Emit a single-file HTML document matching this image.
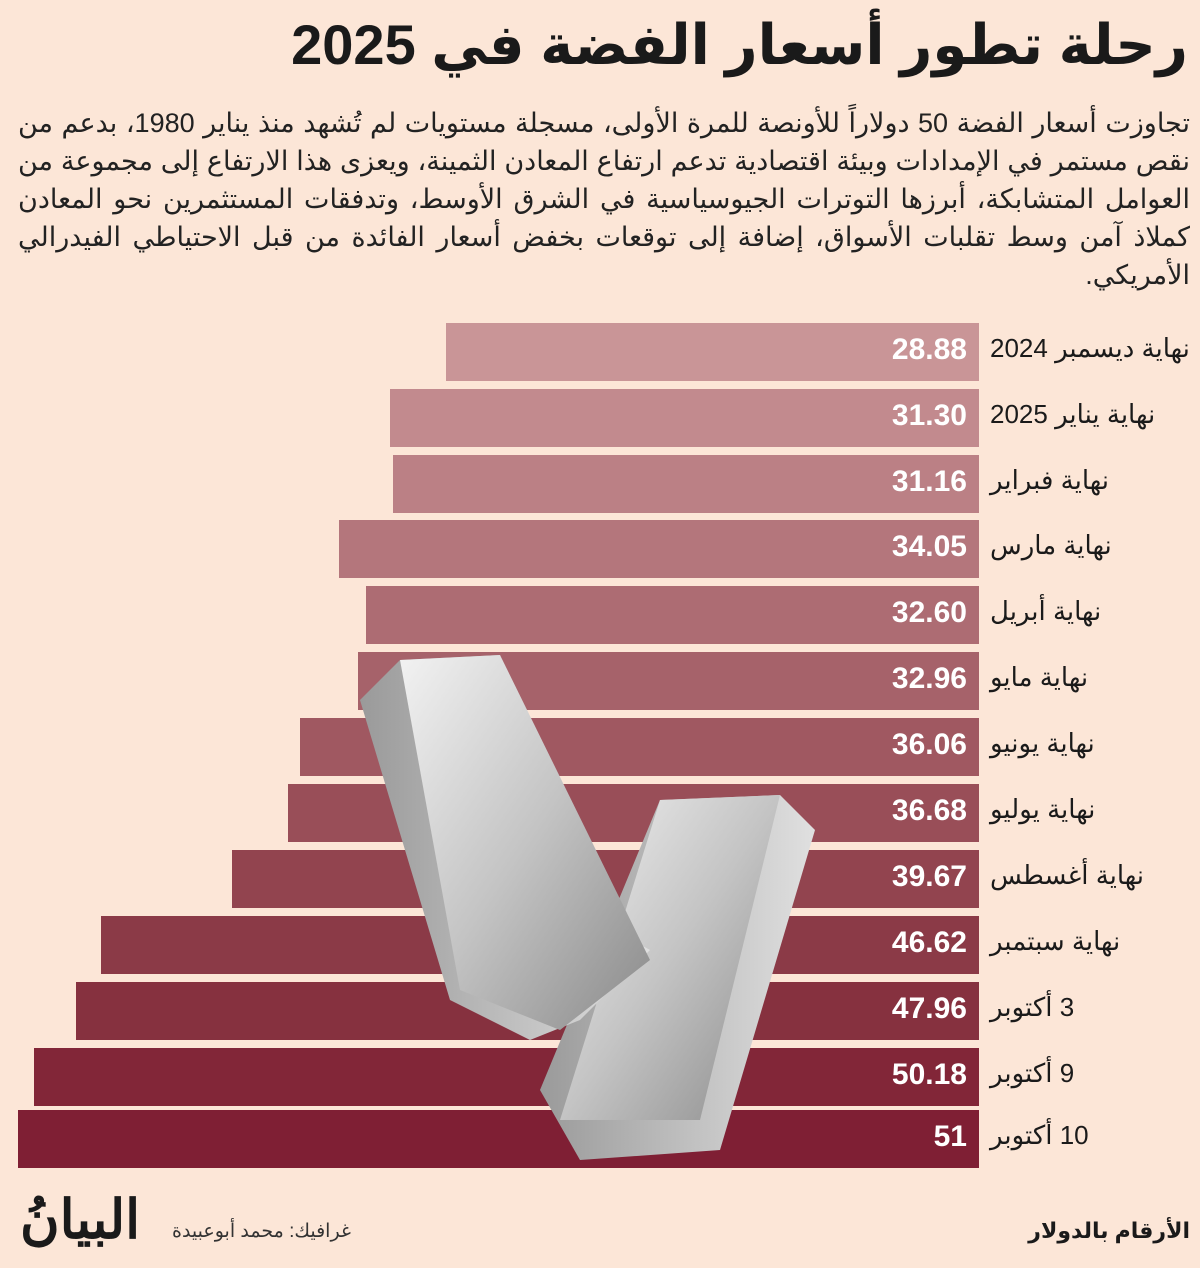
<!DOCTYPE html>
<html><head><meta charset="utf-8"><style>
body{margin:0;width:1200px;height:1268px;background:#fce6d7;position:relative;overflow:hidden;font-family:"Liberation Sans","Noto Sans CJK SC","DejaVu Sans",sans-serif;color:#1a1a1a}
.t{position:absolute;right:12px;top:12px;font-size:56px;font-weight:bold;direction:rtl;white-space:nowrap}
.p{position:absolute;left:18px;right:10px;top:104px;font-size:27px;line-height:38px;direction:rtl;text-align:justify;text-align-last:right;color:#222}
.b{position:absolute;height:58px;right:221px}
.v{position:absolute;right:233px;color:#fff;font-weight:bold;font-size:30px;line-height:58px}
.l{position:absolute;left:990px;font-size:26px;line-height:58px;direction:rtl;white-space:nowrap;text-align:left}
.f{position:absolute;font-size:20px;direction:rtl;white-space:nowrap}
</style></head><body>
<div class="t">رحلة تطور أسعار الفضة في 2025</div>
<div class="p">تجاوزت أسعار الفضة 50 دولاراً للأونصة للمرة الأولى، مسجلة مستويات لم تُشهد منذ يناير 1980، بدعم من نقص مستمر في الإمدادات وبيئة اقتصادية تدعم ارتفاع المعادن الثمينة، ويعزى هذا الارتفاع إلى مجموعة من العوامل المتشابكة، أبرزها التوترات الجيوسياسية في الشرق الأوسط، وتدفقات المستثمرين نحو المعادن كملاذ آمن وسط تقلبات الأسواق، إضافة إلى توقعات بخفض أسعار الفائدة من قبل الاحتياطي الفيدرالي الأمريكي.</div>

<div class="b" style="top:323px;left:446px;background:#c99597"></div><div class="v" style="top:321px">28.88</div><div class="l" style="top:319px">نهاية ديسمبر 2024</div>
<div class="b" style="top:389px;left:390px;background:#c28a8e"></div><div class="v" style="top:387px">31.30</div><div class="l" style="top:385px">نهاية يناير 2025</div>
<div class="b" style="top:455px;left:393px;background:#bb8085"></div><div class="v" style="top:453px">31.16</div><div class="l" style="top:451px">نهاية فبراير</div>
<div class="b" style="top:520px;left:339px;background:#b4767c"></div><div class="v" style="top:518px">34.05</div><div class="l" style="top:516px">نهاية مارس</div>
<div class="b" style="top:586px;left:366px;background:#ad6c73"></div><div class="v" style="top:584px">32.60</div><div class="l" style="top:582px">نهاية أبريل</div>
<div class="b" style="top:652px;left:358px;background:#a6626a"></div><div class="v" style="top:650px">32.96</div><div class="l" style="top:648px">نهاية مايو</div>
<div class="b" style="top:718px;left:300px;background:#a05861"></div><div class="v" style="top:716px">36.06</div><div class="l" style="top:714px">نهاية يونيو</div>
<div class="b" style="top:784px;left:288px;background:#994e58"></div><div class="v" style="top:782px">36.68</div><div class="l" style="top:780px">نهاية يوليو</div>
<div class="b" style="top:850px;left:232px;background:#92444f"></div><div class="v" style="top:848px">39.67</div><div class="l" style="top:846px">نهاية أغسطس</div>
<div class="b" style="top:916px;left:101px;background:#8b3a47"></div><div class="v" style="top:914px">46.62</div><div class="l" style="top:912px">نهاية سبتمبر</div>
<div class="b" style="top:982px;left:76px;background:#86313f"></div><div class="v" style="top:980px">47.96</div><div class="l" style="top:978px">3 أكتوبر</div>
<div class="b" style="top:1048px;left:34px;background:#822638"></div><div class="v" style="top:1046px">50.18</div><div class="l" style="top:1044px">9 أكتوبر</div>
<div class="b" style="top:1110px;left:18px;background:#7f1f34"></div><div class="v" style="top:1108px">51</div><div class="l" style="top:1106px">10 أكتوبر</div>

<svg style="position:absolute;left:0;top:0" width="1200" height="1268">
<defs><linearGradient id="s" x1="0" y1="0" x2="1" y2="1"><stop offset="0" stop-color="#f2f2f2"/><stop offset=".5" stop-color="#c4c4c4"/><stop offset="1" stop-color="#8a8a8a"/></linearGradient>
<linearGradient id="s2" x1="0" y1="0" x2="1" y2="0"><stop offset="0" stop-color="#9a9a9a"/><stop offset="1" stop-color="#e0e0e0"/></linearGradient></defs>
<polygon points="660,800 780,795 815,830 720,1150 580,1160 540,1090" fill="url(#s2)"/>
<polygon points="660,800 780,795 700,1120 560,1120" fill="url(#s)"/>
<polygon points="360,700 400,660 500,655 560,900 650,950 580,1020 530,1040 450,1000" fill="url(#s2)"/>
<polygon points="400,660 500,655 650,960 560,1030 460,990" fill="url(#s)"/>
</svg>

<div class="f" style="right:10px;top:1218px;font-weight:bold;font-size:22px">الأرقام بالدولار</div>
<div class="f" style="left:172px;top:1220px;color:#333;font-size:19px">غرافيك: محمد أبوعبيدة</div>
<div class="f" style="left:20px;top:1188px;font-size:54px;font-weight:bold;font-family:'Liberation Serif','DejaVu Serif',serif">البيانُ</div>
</body></html>
